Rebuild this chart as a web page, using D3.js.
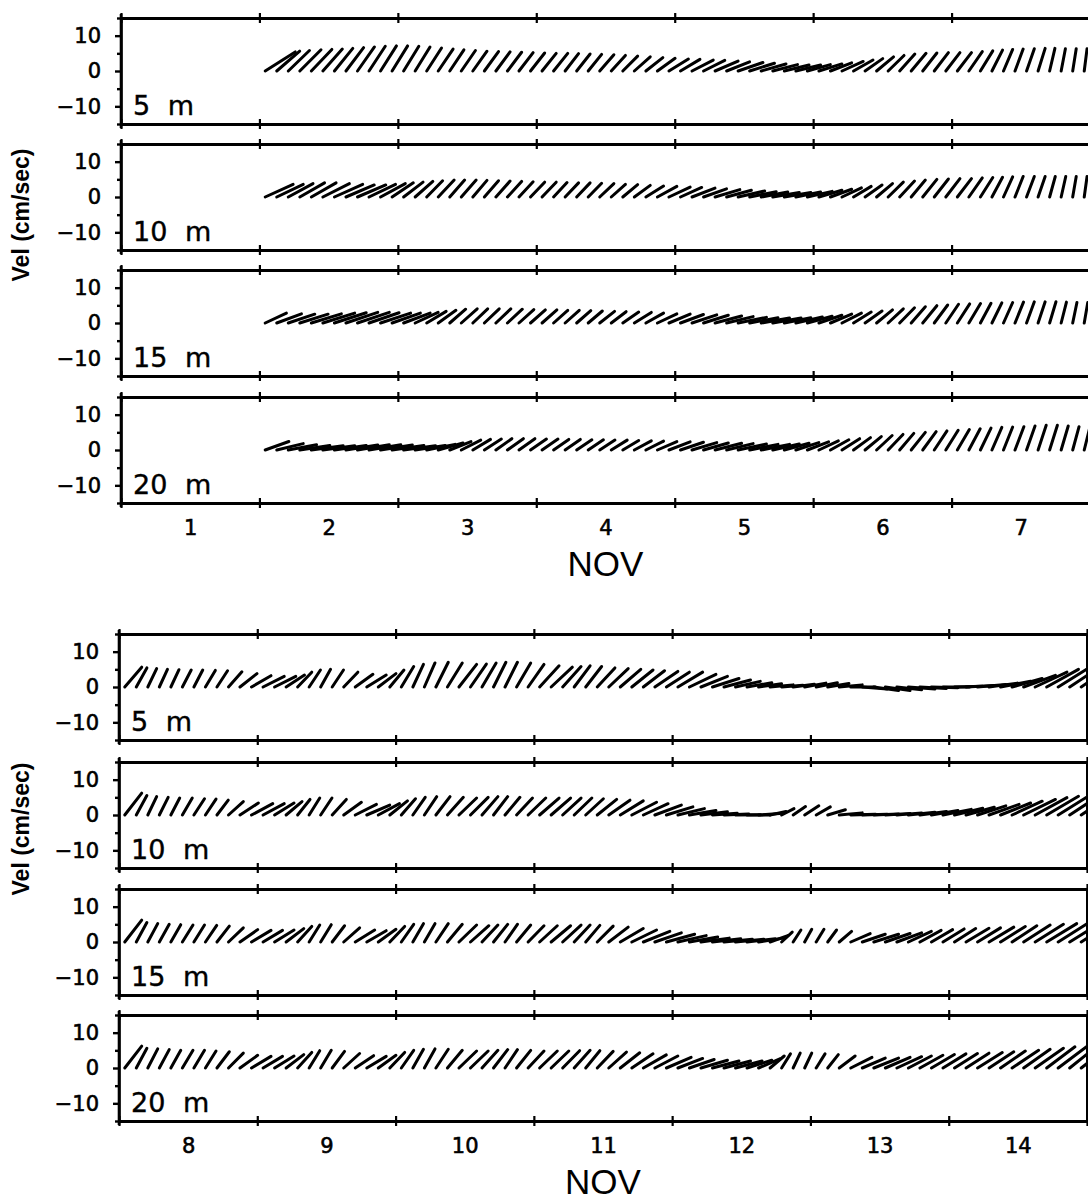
<!DOCTYPE html>
<html><head><meta charset="utf-8">
<script src="https://cdn.jsdelivr.net/npm/d3@7/dist/d3.min.js"></script>
<style>
body{margin:0;background:#fff;}
svg{display:block;}
</style></head><body>
<svg id="chart" width="1088" height="1203"></svg>
<script>
// ---------------- DATA ----------------
// Stick vectors every 2 hours (t = day + 1h, 3h, ... 23h), u = east, v = north (cm/sec)
const depthLabels = ["5 m", "10 m", "15 m", "20 m"];
const yTickLabels = [-10, 0, 10];
const yMinorTicks = [-15, -5, 5, 15];
const topDayLabels = ["1", "2", "3", "4", "5", "6", "7"];
const bottomDayLabels = ["8", "9", "10", "11", "12", "13", "14"];
const monthLabel = "NOV";
const yTitle = "Vel (cm/sec)";

// ---- Top chart: Nov 2 .. Nov 7 (72 samples each) ----
const top5u = [8.5,6.5,6,6,5.8,5.5,5.2,5,4.8,4.6,4.5,4.4, 4.3,4.2,4.2,4.2,4,4,4,4,4,4,4,4, 4,4,3.8,3.8,3.8,4,4,4.2,4.5,4.8,5,5.5, 5.5,6,6,6.5,6.5,7,7,7,7,7,7,6.5, 6.5,6,6,5.5,5,4.8,4.5,4.3,4.2,4,4,4, 4,3.8,3.5,3,2.6,2.3,2.2,2,1.5,1.2,1,0.8];
const top5v = [5.4,5.6,5.8,6,6.1,6.2,6.4,6.6,6.8,7,7.1,7.1, 7,6.8,6.5,6.2,6,5.8,5.6,5.5,5.4,5.3,5.2,5.1, 5,5,4.9,4.8,4.7,4.6,4.4,4.2,4,3.8,3.6,3.4, 3.3,3.1,3,2.8,2.6,2.4,2.2,2,1.8,1.7,1.7,1.8, 2,2.3,2.7,3.1,3.5,4,4.4,4.8,5,5.1,5.2,5.2, 5.2,5.5,5.7,5.9,6.1,6.2,6.3,6.4,6.4,6.3,6.3,6.3];
const top10u = [7.9,7.5,7,7,7,7.5,8,8,8,7.5,7,6, 5.5,5,4.5,4.5,4.2,4.2,4,4,4,4,4,4, 4,3.8,3.8,3.8,3.8,4,4,4.2,4.5,5,5.5,6, 6,6.5,6.5,7,7,7.5,7.5,7.5,7.5,7.5,7,7, 6.5,6,5.5,5,4.8,4.5,4.3,4.2,4,4,4,4, 4,3.8,3.5,3,2.6,2.3,2.2,2,1.6,1.3,1,0.8];
const top10v = [3.6,3.6,3.8,4,4,3.8,3.6,3.4,3.4,3.6,3.8,4, 4.2,4.4,4.6,4.8,4.8,4.8,4.7,4.6,4.5,4.4,4.3,4.2, 4.2,4.1,4,4,3.9,3.8,3.6,3.5,3.3,3.1,3,2.8, 2.7,2.5,2.3,2.1,1.9,1.7,1.5,1.4,1.3,1.3,1.4,1.6, 1.9,2.2,2.6,3,3.4,3.8,4.2,4.5,4.8,5,5.1,5.2, 5.2,5.4,5.5,5.6,5.7,5.8,5.8,5.8,5.8,5.8,5.8,5.8];
const top15u = [6,7,7.5,8,8.5,9,9,9,9,8.5,8.5,8, 7.5,6.5,5.5,5,4.5,4.5,4.2,4.2,4.2,4.2,4.2,4.2, 4.2,4,4,4,4,4.2,4.2,4.5,4.8,5,5.5,6, 6.5,7,7,7.5,7.5,8,8,8,8,7.5,7.5,7, 6.5,6,5.5,5,4.8,4.5,4.3,4.2,4,4,3.8,3.6, 3.5,3.3,3,2.8,2.6,2.4,2.2,2,1.8,1.5,1.2,1];
const top15v = [2.8,2.6,2.5,2.5,2.6,2.8,2.9,3,3,2.9,2.8,2.8, 2.8,3,3.3,3.6,3.9,4,4,4,4,3.9,3.8,3.7, 3.7,3.6,3.6,3.5,3.4,3.3,3.2,3.1,3,2.8,2.6,2.5, 2.4,2.3,2.2,2,1.8,1.6,1.5,1.4,1.4,1.5,1.7,1.9, 2.2,2.5,2.8,3.1,3.4,3.7,4,4.3,4.6,4.9,5.1,5.3, 5.4,5.5,5.6,5.7,5.8,5.9,6,6,6,5.9,5.8,5.8];
const top20u = [6.7,7.5,8,8.5,9,9,9,9,9,9,9,9, 9,8.5,8,7,6,5.5,5,4.8,4.5,4.5,4.5,4.5, 4.5,4.3,4.3,4.3,4.3,4.3,4.5,4.5,4.8,5,5.5,6, 6.5,7,7,7.5,7.5,8,8,8,7.5,7,6.5,6, 5.5,5.2,5,4.8,4.6,4.4,4.2,4,4,3.8,3.6,3.5, 3.4,3.2,3,2.8,2.6,2.5,2.4,2.3,2.2,2,1.8,1.6];
const top20v = [2.4,1.8,1.5,1.3,1.2,1.2,1.3,1.4,1.5,1.5,1.4,1.3, 1.2,1.3,1.6,2,2.4,2.8,3,3.1,3.2,3.2,3.2,3.1, 3.1,3,3,2.9,2.9,2.8,2.8,2.7,2.6,2.5,2.4,2.3, 2.2,2.1,2,1.9,1.8,1.7,1.6,1.6,1.7,1.9,2.1,2.3, 2.6,2.9,3.2,3.5,3.8,4.1,4.4,4.7,5,5.2,5.4,5.6, 5.8,6,6.2,6.4,6.5,6.6,6.8,7,7,6.8,6.6,6.5];

// ---- Bottom chart: Nov 8 .. Nov 14 (84 samples each) ----
const bot5u = [4.8,3,2.5,2.3,2.3,2.5,2.5,2.8,3,3.8,4.8,5.5, 6,6,5.2,4,3.2,2.8,3.2,4,5,5.5,5,4, 3.5,3,3,3.5,4.2,5,4.5,4,3.5,3.5,4,4.5, 5.5,6,5.2,4.5,4.5,5,5.5,5.8,6,6,6.5,6.5, 7,7.5,7.5,7.5,7.5,7,7,6.5,6.5,6,6,6, 6,6,6.5,7,7,7,7,7,7.5,7.5,7.5,7.5, 8,8,8,8,8.5,8.5,9,9,9,9,9,9];
const bot5v = [5.6,5.4,5.2,5,4.9,4.8,4.8,4.7,4.6,4.3,3.8,3.2, 3,3,3.4,4.2,4.8,5,4.8,4.2,3.6,3.4,3.8,4.8, 5.8,6.4,6.8,7,6.8,6.4,6.5,6.8,7,7,6.8,6.4, 6,5.6,5.8,6,5.8,5.4,5.2,5,4.8,4.6,4.4,4.2, 4.2,3.6,3,2.4,2,1.6,1.2,0.9,0.6,0.5,0.8,1.1, 1.2,1,0.6,0,-0.6,-1,-1,-0.8,-0.6,-0.4,-0.2,0, 0.2,0.4,0.7,1.1,1.6,2.4,3.3,4.2,5,5.6,6,6.2];
const bot10u = [4.8,3,2.5,2.5,2.5,2.8,3,3,3.2,4.2,5.2,6, 6,5.5,4.5,3.5,3,3.2,4,5,6,6.5,6,5, 4,3.5,3.5,4,4.5,5,5,4.5,4,4.2,4.5,5, 5.5,5.5,5.2,5,5,5.5,6,6.5,7,7,7.5,7.5, 7.5,7.5,7.5,7,7,7,6.5,6,4.5,3.5,3.5,4, 4,5,6.5,7,7,7,7,7,7.5,7.5,7.5,8, 8,8,8,8.5,8.5,8.5,9,9,9,9,9,9];
const bot10v = [6.2,5.5,5.2,5,4.8,4.8,4.6,4.5,4.2,3.8,3.4,3.2, 3.2,3.4,3.8,4.4,4.8,4.8,4.4,3.6,3,2.8,3.2,4, 4.6,5,5.2,5.2,5,4.8,5,5.2,5.2,5,4.8,4.8, 4.8,4.8,4.8,4.8,4.6,4.4,4.2,4,3.6,3.2,2.8,2.3, 1.8,1.3,0.9,0.5,0.3,0.1,0,0.4,1,1.8,2.4,2.6, 2.3,1.5,0.6,0.2,0.2,0.3,0.4,0.6,0.8,1,1.3,1.6, 1.9,2.2,2.6,3,3.4,3.9,4.4,4.9,5.3,5.6,5.9,6];
const bot15u = [4.8,3,2.8,2.8,2.8,3,3,3.2,3.5,4.2,5,5.5, 5.5,5.5,5,4,3,3,3.5,4.5,5.5,5.5,5,4.2, 3.5,3,3,3.5,4.2,5,5.2,4.5,4,3.5,4,4.5, 5,5.5,5.2,4.5,4,4.5,5.5,6.5,7,7.5,7.5,8, 8,8,8,8,8,8,8,7,5,3,2.2,2, 2.2,2.5,3.5,5.5,6.5,7,7,7,6.5,6,6,6, 6,6.5,6.5,7,7,7,7.5,8,8.5,8.5,9,9];
const bot15v = [6.2,5.5,5.2,5,4.9,4.8,4.8,4.7,4.5,4,3.5,3.3, 3.3,3.4,3.8,4.4,4.8,4.9,4.6,4,3.4,3.2,3.6,4.4, 5,5.2,5.2,5.2,5,4.8,4.6,4.8,5,5,4.8,4.6, 4.6,4.6,4.8,4.8,4.7,4.5,4.2,3.8,3.4,3,2.6,2.2, 1.8,1.4,1.1,0.9,0.8,0.8,0.9,1.1,1.8,2.8,3.4,3.6, 3.6,3.4,3,2.4,2.2,2.2,2.4,2.6,3,3.3,3.5,3.7, 3.8,3.9,4,4.2,4.4,4.6,4.8,5,5.2,5.4,5.6,5.8];
const bot20u = [4.8,3,2.8,2.8,2.8,3,3,3,3.5,4.2,5,5.5, 5.5,5.5,5,4,3,3,3.5,4.5,5.2,5.5,5,4.2, 3.5,3,3,3.5,4.2,5,5,4.5,4,3.5,4,4.5, 5,5,4.8,4.5,4,4.5,5,5.5,6,6.5,6.5,7, 7,7,7.5,7.5,7.5,7.5,7,6,4,2.5,2,2, 2.5,3,4.5,6,6.5,7,7,7,6.5,6.5,6.5,6.5, 6.5,6.5,7,7,7,7.5,7.5,8,8,8.5,8.5,9];
const bot20v = [6.2,5.6,5.4,5.2,5,5,5,4.8,4.6,4.2,3.6,3.3, 3.3,3.4,3.8,4.4,4.9,5,4.7,4.1,3.5,3.3,3.6,4.4, 5,5.3,5.4,5.3,5,4.8,4.8,5,5.2,5.2,5,4.8, 4.8,4.8,4.9,5,4.9,4.7,4.5,4.3,4,3.7,3.4,3, 2.7,2.4,2.2,2,2,2,2.2,2.6,3.4,4,4.2,4.2, 4,3.8,3.4,3,2.8,2.8,3,3.2,3.4,3.6,3.8,4, 4.1,4.2,4.4,4.6,4.8,5,5.3,5.6,6,6.4,6.8,7];

// ---------------- LAYOUT ----------------
const svg = d3.select("#chart");
const panelH = 106;
const charts = [
  { x0: 121, x1: 1090, domain: [1, 8], dataStart: 2, dayLabels: topDayLabels,
    tops: [18, 144, 270, 397], titleY: 215, series: [[top5u, top5v], [top10u, top10v], [top15u, top15v], [top20u, top20v]] },
  { x0: 119, x1: 1087, domain: [8, 15], dataStart: 8, dayLabels: bottomDayLabels,
    tops: [634, 762, 889, 1015], titleY: 829, series: [[bot5u, bot5v], [bot10u, bot10v], [bot15u, bot15v], [bot20u, bot20v]] }
];

const fontTick = "'DejaVu Sans', sans-serif";
const defs = svg.append("defs");

charts.forEach((c, ci) => {
  const x = d3.scaleLinear().domain(c.domain).range([c.x0, c.x1]);
  const dayBounds = d3.range(c.domain[0], c.domain[1] + 1);
  const dayCenters = d3.range(c.domain[0] + 0.5, c.domain[1], 1);
  const g = svg.append("g");

  c.tops.forEach((top, pi) => {
    const bottom = top + panelH;
    const y = d3.scaleLinear().domain([-15, 15]).range([bottom, top]);
    const pg = g.append("g");
    const clipId = `clip-${ci}-${pi}`;
    defs.append("clipPath").attr("id", clipId).append("rect")
      .attr("x", c.x0).attr("y", top - 30).attr("width", c.x1 - c.x0).attr("height", panelH + 60);

    // sticks
    const [us, vs] = c.series[pi];
    const data = us.map((u, i) => ({ t: c.dataStart + (2 * i + 1) / 24, u, v: vs[i] }));
    pg.append("g").attr("clip-path", `url(#${clipId})`)
      .selectAll("line").data(data).join("line")
      .attr("x1", d => x(d.t))
      .attr("y1", y(0))
      .attr("x2", d => x(d.t) + (y(0) - y(d.u)))
      .attr("y2", d => y(d.v))
      .attr("stroke", "#000").attr("stroke-width", 3).attr("stroke-linecap", "round");

    // top & bottom borders with day ticks (crossing marks)
    [top, bottom].forEach(yy => {
      const ax1 = d3.axisBottom(x).tickValues(dayBounds).tickSizeInner(5).tickSizeOuter(0).tickFormat("");
      const ax2 = d3.axisTop(x).tickValues(dayBounds).tickSizeInner(5).tickSizeOuter(0).tickFormat("");
      [ax1, ax2].forEach(ax => {
        const a = pg.append("g").attr("transform", `translate(0,${yy})`).call(ax);
        a.select(".domain").attr("stroke", "#000").attr("stroke-width", 3);
        a.selectAll(".tick line").attr("stroke", "#000").attr("stroke-width", 2.2);
      });
    });

    // left axis: major labelled ticks & minor ticks
    const yMajor = d3.axisLeft(y).tickValues(yTickLabels).tickSizeInner(6).tickSizeOuter(0)
      .tickPadding(14).tickFormat(d => d < 0 ? "\u2212" + Math.abs(d) : String(d));
    const la = pg.append("g").attr("transform", `translate(${c.x0},0)`).call(yMajor);
    la.select(".domain").attr("stroke", "#000").attr("stroke-width", 2.6);
    la.selectAll(".tick line").attr("stroke", "#000").attr("stroke-width", 2.4);
    la.selectAll(".tick text").attr("font-family", fontTick).attr("font-size", 21).attr("fill", "#000")
      .attr("stroke", "#000").attr("stroke-width", 0.6);
    const yMin = d3.axisLeft(y).tickValues(yMinorTicks).tickSizeInner(4).tickSizeOuter(0).tickFormat("");
    const lm = pg.append("g").attr("transform", `translate(${c.x0},0)`).call(yMin);
    lm.select(".domain").remove();
    lm.selectAll(".tick line").attr("stroke", "#000").attr("stroke-width", 2.4);
    pg.append("line").attr("x1", c.x0).attr("x2", c.x0).attr("y1", top - 4).attr("y2", bottom + 4)
      .attr("stroke", "#000").attr("stroke-width", 2.6);

    // right border
    pg.append("line").attr("x1", c.x1).attr("x2", c.x1).attr("y1", top).attr("y2", bottom)
      .attr("stroke", "#000").attr("stroke-width", 2);

    // depth label
    pg.append("text").attr("x", c.x0 + 12).attr("y", bottom - 9)
      .attr("font-family", fontTick).attr("font-size", 27).attr("word-spacing", 9)
      .attr("stroke", "#000").attr("stroke-width", 0.4)
      .text(depthLabels[pi]);
  });

  // day labels
  const lastBottom = c.tops[3] + panelH;
  const dAx = d3.axisBottom(x).tickValues(dayCenters).tickSize(0).tickPadding(17)
    .tickFormat((d, i) => c.dayLabels[i]);
  const da = g.append("g").attr("transform", `translate(0,${lastBottom})`).call(dAx);
  da.select(".domain").remove();
  da.selectAll(".tick text").attr("font-family", fontTick).attr("font-size", 21).attr("fill", "#000")
    .attr("stroke", "#000").attr("stroke-width", 0.6);

  // month label
  g.append("text").attr("x", x((c.domain[0] + c.domain[1]) / 2)).attr("y", lastBottom + 73)
    .attr("text-anchor", "middle").attr("font-family", "'Liberation Sans', Arial, sans-serif")
    .attr("font-size", 35).text(monthLabel);

  // y title
  g.append("text").attr("transform", `translate(29,${c.titleY}) rotate(-90)`)
    .attr("text-anchor", "middle").attr("font-family", "'Liberation Sans', Arial, sans-serif")
    .attr("font-weight", "bold").attr("font-size", 23).text(yTitle);
});
</script></body></html>
